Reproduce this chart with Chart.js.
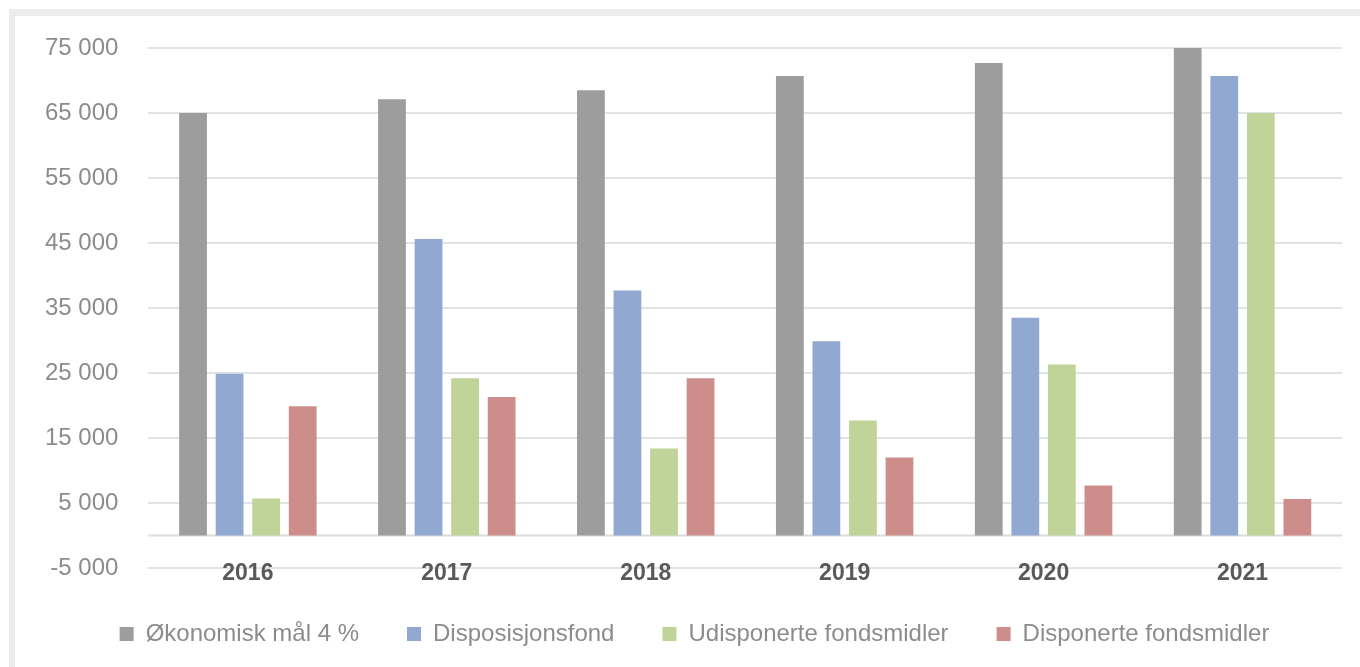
<!DOCTYPE html>
<html lang="no">
<head>
  <meta charset="UTF-8">
  <title>Fondsmidler</title>
  <script src="https://cdn.jsdelivr.net/npm/chart.js"></script>
  <style>
    html, body { margin: 0; padding: 0; background: #fff; }
    #wrap { position: relative; width: 1360px; height: 667px; }
    #frame { position: absolute; left: 9px; top: 9px; right: 0; bottom: 0;
             border-left: 6px solid #ececec; border-top: 7px solid #ececec; pointer-events: none; }
  </style>
</head>
<body>
  <div id="wrap">
    <canvas id="fondChart"></canvas>
    <div id="frame"></div>
  </div>

  <script>
    // data lest av fra bildet (kr)
    const years = ['2016', '2017', '2018', '2019', '2020', '2021'];
    const okonomiskMal = [65000, 67100, 68500, 70700, 72700, 75200];
    const disposisjonsfond = [24900, 45600, 37700, 29900, 33500, 70700];
    const udisponerte = [5700, 24200, 13400, 17700, 26300, 65000];
    const disponerte = [19900, 21300, 24200, 12000, 7700, 5600];
    const yMin = -5000, yMax = 75000, yStep = 10000;

    function fmt(v) {
      const s = String(Math.abs(v)).replace(/\B(?=(\d{3})+(?!\d))/g, ' ');
      return (v < 0 ? '-' : '') + s;
    }

    // linje ved 0
    const zeroLine = {
      id: 'zeroLine',
      beforeDatasetsDraw(chart) {
        const y = chart.scales.y.getPixelForValue(0);
        const a = chart.chartArea;
        const ctx = chart.ctx;
        ctx.save();
        ctx.strokeStyle = '#dcdcdc';
        ctx.lineWidth = 2;
        ctx.beginPath();
        ctx.moveTo(a.left, y);
        ctx.lineTo(a.right, y);
        ctx.stroke();
        ctx.restore();
      }
    };

    // flytt legenden litt mot høyre
    const legendShift = {
      id: 'legendShift',
      afterLayout(chart) {
        chart.legend.left += 16;
        chart.legend.right += 16;
      }
    };

    const ctx = document.getElementById('fondChart').getContext('2d');
    new Chart(ctx, {
      type: 'bar',
      data: {
        labels: years,
        datasets: [
          { label: 'Økonomisk mål 4 %', data: okonomiskMal, backgroundColor: '#9d9d9d' },
          { label: 'Disposisjonsfond', data: disposisjonsfond, backgroundColor: '#91a8d0' },
          { label: 'Udisponerte fondsmidler', data: udisponerte, backgroundColor: '#c0d399' },
          { label: 'Disponerte fondsmidler', data: disponerte, backgroundColor: '#cc8d8b' }
        ]
      },
      options: {
        responsive: true,
        maintainAspectRatio: false,
        animation: false,
        barPercentage: 0.76,
        categoryPercentage: 0.735,
        layout: { padding: { left: 15, right: 18, top: 48, bottom: 11 } },
        scales: {
          x: {
            grid: { display: false },
            border: { display: false },
            afterFit: s => { s.height = 6; },
            ticks: { mirror: true, color: '#595959', padding: -19, font: { family: 'Liberation Sans', size: 23, weight: 'bold' } }
          },
          y: {
            min: yMin,
            max: yMax,
            grid: { color: '#e3e3e3', lineWidth: 2, drawTicks: false },
            border: { display: false },
            ticks: {
              stepSize: yStep,
              color: '#8c8c8c',
              padding: 30,
              font: { family: 'Liberation Sans', size: 24 },
              callback: v => fmt(v)
            }
          }
        },
        plugins: {
          legend: {
            position: 'bottom',
            labels: {
              boxWidth: 14,
              boxHeight: 14,
              padding: 48,
              color: '#8c8c8c',
              font: { family: 'Liberation Sans', size: 24 }
            }
          },
          tooltip: { enabled: false }
        }
      },
      plugins: [zeroLine, legendShift]
    });
  </script>
</body>
</html>
